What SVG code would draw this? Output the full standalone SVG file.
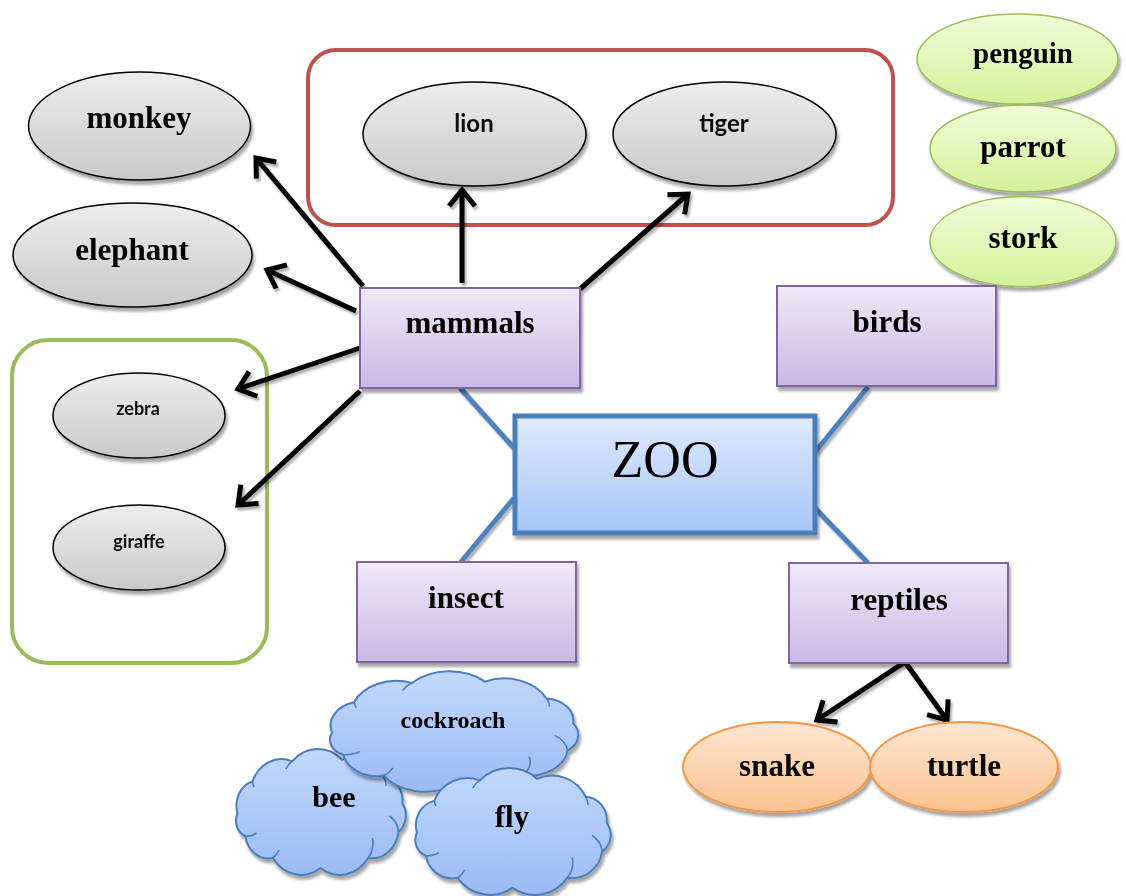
<svg xmlns="http://www.w3.org/2000/svg" width="1126" height="896" viewBox="0 0 1126 896">
<defs>
  <style>
    .serif{font-family:"Liberation Serif","Times New Roman",serif;font-weight:bold;fill:#000;text-anchor:middle}
    .sans{font-family:Lato,"Open Sans",sans-serif;font-weight:bold;fill:#111;text-anchor:middle}
    .gray{fill:url(#gGray);stroke:#000;stroke-width:1.5}
    .green{fill:url(#gGreen);stroke:#9bbb59;stroke-width:1.5}
    .orange{fill:url(#gOrange);stroke:#f79646;stroke-width:2}
    .cat{fill:url(#gPurple);stroke:#8064a2;stroke-width:2}
    .arrow{stroke:#000;stroke-width:5;fill:none;marker-end:url(#chev)}
    .blue{stroke:#4f81bd;stroke-width:5;fill:none}
    .cloud{fill:url(#gCloud);stroke:#4a7ebb;stroke-width:2}
    .cloudline{fill:none;stroke:#4a7ebb;stroke-width:1.6}
  </style>
  <linearGradient id="gGray" x1="0" y1="0" x2="0" y2="1"><stop offset="0" stop-color="#ededed"/><stop offset="1" stop-color="#c9c9c9"/></linearGradient>
  <linearGradient id="gGreen" x1="0" y1="0" x2="0" y2="1"><stop offset="0" stop-color="#f0fcd8"/><stop offset="1" stop-color="#d3f29a"/></linearGradient>
  <linearGradient id="gOrange" x1="0" y1="0" x2="0" y2="1"><stop offset="0" stop-color="#fde6d2"/><stop offset="1" stop-color="#fbc28f"/></linearGradient>
  <linearGradient id="gPurple" x1="0" y1="0" x2="0" y2="1"><stop offset="0" stop-color="#efe9f7"/><stop offset="1" stop-color="#cbb8e3"/></linearGradient>
  <linearGradient id="gBlue" x1="0" y1="0" x2="0" y2="1"><stop offset="0" stop-color="#dfeafd"/><stop offset="1" stop-color="#a5c5f8"/></linearGradient>
  <linearGradient id="gCloud" x1="0" y1="0" x2="0" y2="1"><stop offset="0" stop-color="#c2d8fc"/><stop offset="1" stop-color="#9bbbf4"/></linearGradient>
  <filter id="sh" x="-20%" y="-20%" width="140%" height="150%">
    <feDropShadow dx="2" dy="4" stdDeviation="1.5" flood-color="#000" flood-opacity="0.35"/>
  </filter>
  <filter id="shA" x="-20%" y="-20%" width="140%" height="140%">
    <feDropShadow dx="2" dy="3" stdDeviation="1.2" flood-color="#000" flood-opacity="0.3"/>
  </filter>
  <marker id="chev" markerUnits="userSpaceOnUse" markerWidth="30" markerHeight="30" viewBox="0 0 30 30" refX="22" refY="15" orient="auto-start-reverse">
    <path d="M 6,2 L 22,15 L 6,28" fill="none" stroke="#000" stroke-width="5"/>
  </marker>
  <path id="cloud" vector-effect="non-scaling-stroke" d="M 4,60 A 25,25 0 0 1 21.4,28.4 A 36,36 0 0 1 67.2,8.3 A 42,42 0 0 1 124.9,6.9 A 37,37 0 0 1 173.5,24.6 A 23,23 0 0 1 194.6,50.4 A 20,20 0 0 1 190.2,78.8 A 31,31 0 0 1 155.1,105 A 40,40 0 0 1 100,115 A 40,40 0 0 1 44.9,105 A 27,27 0 0 1 13,83.2 A 17,17 0 0 1 4,60 Z"/>
  <path id="cloudIn" vector-effect="non-scaling-stroke" d="M 13,83.2 A 20,18 0 0 0 26,80 M 44.9,105 A 24,20 0 0 0 52,97 M 155.1,105 A 30,26 0 0 0 160,85 M 190.2,78.8 A 24,22 0 0 0 180,63 M 173.5,24.6 A 18,18 0 0 1 176,33 M 67.2,8.3 A 20,18 0 0 0 60,16 M 21.4,28.4 A 20,18 0 0 0 23,34"/>
</defs>
<rect width="1126" height="896" fill="#fff"/>

<!-- group frames -->
<rect id="mammal-group-red" x="308" y="50" width="585" height="175" rx="28" fill="none" stroke="#c0504d" stroke-width="4"/>
<rect id="mammal-group-green" x="12" y="340" width="255" height="323" rx="36" fill="none" stroke="#9bbb59" stroke-width="4"/>

<!-- connectors -->
<g id="connectors" filter="url(#shA)">
  <line class="blue" x1="460" y1="388" x2="514" y2="448"/>
  <line class="blue" x1="868" y1="387" x2="815" y2="452"/>
  <line class="blue" x1="460" y1="563" x2="514" y2="498"/>
  <line class="blue" x1="868" y1="563" x2="815" y2="508"/>
  <line class="arrow" x1="363" y1="286" x2="256" y2="158"/>
  <line class="arrow" x1="356" y1="311" x2="267" y2="270"/>
  <line class="arrow" x1="360" y1="348" x2="238" y2="389"/>
  <line class="arrow" x1="360" y1="391" x2="238" y2="505"/>
  <line class="arrow" x1="462" y1="283" x2="462" y2="190"/>
  <line class="arrow" x1="580" y1="289" x2="688" y2="194"/>
  <path class="arrow" d="M 817,720 L 905,662 L 947,720" style="marker-start:url(#chev)"/>
</g>

<!-- animal ellipses -->
<g id="monkey" filter="url(#sh)"><ellipse class="gray" cx="139.5" cy="126" rx="111" ry="54"/><text class="serif" x="139" y="128" font-size="31">monkey</text></g>
<g id="elephant" filter="url(#sh)"><ellipse class="gray" cx="132.5" cy="255" rx="119.5" ry="52"/><text class="serif" x="132" y="260" font-size="31">elephant</text></g>
<g id="lion" filter="url(#sh)"><ellipse class="gray" cx="474.5" cy="134" rx="111.5" ry="52"/><text class="sans" x="474" y="132" font-size="24">lion</text></g>
<g id="tiger" filter="url(#sh)"><ellipse class="gray" cx="724.5" cy="134" rx="111.5" ry="52"/><text class="sans" x="724" y="132" font-size="24">tiger</text></g>
<g id="zebra" filter="url(#sh)"><ellipse class="gray" cx="139" cy="415.5" rx="86" ry="42.5"/><text class="sans" x="138" y="415" font-size="18">zebra</text></g>
<g id="giraffe" filter="url(#sh)"><ellipse class="gray" cx="139" cy="547.5" rx="86" ry="42.5"/><text class="sans" x="139" y="548" font-size="18">giraffe</text></g>

<g id="penguin" filter="url(#sh)"><ellipse class="green" cx="1017.5" cy="59" rx="100.5" ry="45"/><text class="serif" x="1023" y="63" font-size="29">penguin</text></g>
<g id="parrot" filter="url(#sh)"><ellipse class="green" cx="1023" cy="148.5" rx="93" ry="43.5"/><text class="serif" x="1023" y="157" font-size="31">parrot</text></g>
<g id="stork" filter="url(#sh)"><ellipse class="green" cx="1023" cy="241.5" rx="93" ry="45"/><text class="serif" x="1023" y="248" font-size="31">stork</text></g>

<g id="snake" filter="url(#sh)"><ellipse class="orange" cx="777" cy="767" rx="94" ry="45"/><text class="serif" x="777" y="776" font-size="31">snake</text></g>
<g id="turtle" filter="url(#sh)"><ellipse class="orange" cx="964" cy="767" rx="94" ry="45"/><text class="serif" x="964" y="776" font-size="31">turtle</text></g>

<!-- category boxes -->
<g id="mammals" filter="url(#sh)"><rect class="cat" x="360" y="288" width="220" height="100"/><text class="serif" x="470" y="333" font-size="31">mammals</text></g>
<g id="birds" filter="url(#sh)"><rect class="cat" x="777" y="286" width="219" height="100"/><text class="serif" x="887" y="332" font-size="31">birds</text></g>
<g id="insect" filter="url(#sh)"><rect class="cat" x="357" y="562" width="219" height="100"/><text class="serif" x="466" y="608" font-size="31">insect</text></g>
<g id="reptiles" filter="url(#sh)"><rect class="cat" x="789" y="563" width="219" height="100"/><text class="serif" x="899" y="610" font-size="31">reptiles</text></g>

<g id="zoo" filter="url(#sh)"><rect x="515" y="416" width="300" height="117" fill="url(#gBlue)" stroke="#4a7ebb" stroke-width="5"/><text x="665" y="477" font-family="Liberation Serif, Times New Roman, serif" font-size="52" text-anchor="middle" fill="#000">ZOO</text></g>

<!-- insect clouds -->
<g id="bee" filter="url(#sh)"><g transform="translate(234,753) scale(0.865,1)"><use href="#cloud" class="cloud"/><use href="#cloudIn" class="cloudline"/></g><text class="serif" x="334" y="807" font-size="30">bee</text></g>
<g id="cockroach" filter="url(#sh)"><g transform="translate(327,675) scale(1.265,0.958)"><use href="#cloud" class="cloud"/><use href="#cloudIn" class="cloudline"/></g><text class="serif" x="453" y="728" font-size="24">cockroach</text></g>
<g id="fly" filter="url(#sh)"><g transform="translate(413,772) scale(0.995,1.008)"><use href="#cloud" class="cloud"/><use href="#cloudIn" class="cloudline"/></g><text class="serif" x="512" y="827" font-size="31">fly</text></g>
</svg>
